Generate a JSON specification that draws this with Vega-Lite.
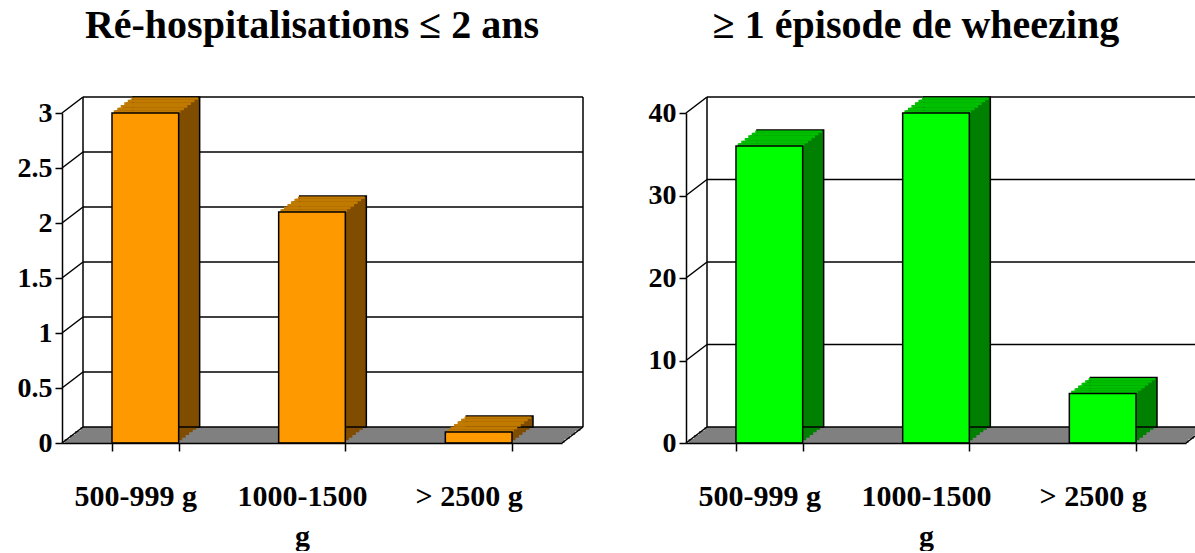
{
  "$schema": "https://vega.github.io/schema/vega-lite/v6.json",
  "background": "white",
  "padding": {"left": 17, "top": 6, "right": 0, "bottom": 0},
  "spacing": 64,
  "config": {
    "view": {"stroke": null},
    "font": "Liberation Serif",
    "axis": {"domainColor": "black", "tickColor": "black", "labelColor": "black", "labelFont": "Liberation Serif", "labelFontWeight": "bold", "grid": false, "domainWidth": 1.5, "tickWidth": 1.5},
    "axisY": {"labelFontSize": 28, "tickSize": 7, "labelPadding": 3, "format": "~g"},
    "axisX": {"labelFontSize": 30, "labelPadding": 30, "tickSize": 8, "labelAngle": 0, "labelOffset": -10, "tickBand": "extent", "labelLineHeight": 40, "labelOverlap": false, "labelLimit": 0},
    "title": {"font": "Liberation Serif", "fontSize": 40, "fontWeight": "bold", "color": "black", "anchor": "middle", "offset": 50}
  },
  "datasets": {
    "hosp": [
      {"cat": "500-999 g", "v": 3},
      {"cat": "1000-1500 g", "v": 2.1},
      {"cat": "> 2500 g", "v": 0.1}
    ],
    "wheez": [
      {"cat": "500-999 g", "v": 36},
      {"cat": "1000-1500 g", "v": 40},
      {"cat": "> 2500 g", "v": 6}
    ],
    "gridL": [{"g": 0}, {"g": 0.5}, {"g": 1}, {"g": 1.5}, {"g": 2}, {"g": 2.5}, {"g": 3}],
    "gridR": [{"g": 0}, {"g": 10}, {"g": 20}, {"g": 30}, {"g": 40}],
    "one": [{"part": "frame"}]
  },
  "hconcat": [
    {
      "width": 500,
      "height": 330,
      "title": {"text": "Ré-hospitalisations ≤ 2 ans"},
      "layer": [
        {"data": {"name": "one"}, "mark": {"type": "rect", "fill": "#808080", "xOffset": 2.6, "x2Offset": 2.6, "yOffset": 0, "y2Offset": -4}, "encoding": {"x": {"datum": "500-999 g", "bandPosition": -0.75, "title": null}, "x2": {"datum": "> 2500 g", "bandPosition": 1.75}, "y": {"datum": 0, "type": "quantitative", "title": null}, "y2": {"datum": 0}}},
        {"data": {"name": "one"}, "mark": {"type": "rect", "fill": "#808080", "xOffset": 7.9, "x2Offset": 7.9, "yOffset": -4, "y2Offset": -8}, "encoding": {"x": {"datum": "500-999 g", "bandPosition": -0.75, "title": null}, "x2": {"datum": "> 2500 g", "bandPosition": 1.75}, "y": {"datum": 0, "type": "quantitative", "title": null}, "y2": {"datum": 0}}},
        {"data": {"name": "one"}, "mark": {"type": "rect", "fill": "#808080", "xOffset": 13.1, "x2Offset": 13.1, "yOffset": -8, "y2Offset": -12}, "encoding": {"x": {"datum": "500-999 g", "bandPosition": -0.75, "title": null}, "x2": {"datum": "> 2500 g", "bandPosition": 1.75}, "y": {"datum": 0, "type": "quantitative", "title": null}, "y2": {"datum": 0}}},
        {"data": {"name": "one"}, "mark": {"type": "rect", "fill": "#808080", "xOffset": 18.4, "x2Offset": 18.4, "yOffset": -12, "y2Offset": -16}, "encoding": {"x": {"datum": "500-999 g", "bandPosition": -0.75, "title": null}, "x2": {"datum": "> 2500 g", "bandPosition": 1.75}, "y": {"datum": 0, "type": "quantitative", "title": null}, "y2": {"datum": 0}}},
        {"data": {"name": "gridL"}, "mark": {"type": "rule", "stroke": "black", "strokeWidth": 1.5, "xOffset": 21, "x2Offset": 21, "yOffset": -16}, "encoding": {"x": {"datum": "500-999 g", "bandPosition": -0.75, "title": null}, "x2": {"datum": "> 2500 g", "bandPosition": 1.75}, "y": {"field": "g", "type": "quantitative", "title": null}}},
        {"data": {"name": "gridL"}, "mark": {"type": "rule", "stroke": "black", "strokeWidth": 1.5, "x2Offset": 21, "y2Offset": -16}, "encoding": {"x": {"datum": "500-999 g", "bandPosition": -0.75, "title": null}, "x2": {"datum": "500-999 g", "bandPosition": -0.75}, "y": {"field": "g", "type": "quantitative", "title": null}, "y2": {"field": "g"}}},
        {"data": {"name": "one"}, "mark": {"type": "rule", "stroke": "black", "strokeWidth": 1.5, "x2Offset": 21, "y2Offset": -16}, "encoding": {"x": {"datum": "> 2500 g", "bandPosition": 1.75, "title": null}, "x2": {"datum": "> 2500 g", "bandPosition": 1.75}, "y": {"datum": 0, "type": "quantitative", "title": null}, "y2": {"datum": 0}}},
        {"data": {"name": "one"}, "mark": {"type": "rule", "stroke": "black", "strokeWidth": 1.5, "xOffset": 21, "yOffset": -16, "y2Offset": -16}, "encoding": {"x": {"datum": "500-999 g", "bandPosition": -0.75, "title": null}, "y": {"datum": 0, "type": "quantitative", "title": null}, "y2": {"datum": 3}}},
        {"data": {"name": "one"}, "mark": {"type": "rule", "stroke": "black", "strokeWidth": 1.5, "xOffset": 21, "yOffset": -16, "y2Offset": -16}, "encoding": {"x": {"datum": "> 2500 g", "bandPosition": 1.75, "title": null}, "y": {"datum": 0, "type": "quantitative", "title": null}, "y2": {"datum": 3}}},
        {
          "data": {"name": "hosp"},
          "encoding": {
            "x": {"field": "cat", "type": "nominal", "sort": null, "title": null, "scale": {"domain": ["500-999 g", "1000-1500 g", "> 2500 g"], "paddingInner": 0.6, "paddingOuter": 0.3}, "axis": {"labelExpr": "datum.label == '1000-1500 g' ? ['1000-1500', 'g'] : datum.label"}},
            "y": {"field": "v", "type": "quantitative", "title": null, "scale": {"domain": [0, 3]}, "axis": {"values": [0, 0.5, 1, 1.5, 2, 2.5, 3]}}
          },
          "layer": [
            {"mark": {"type": "bar", "fill": "#7F4C00", "xOffset": 3.5, "x2Offset": 3.5, "yOffset": -2.67, "y2Offset": -2.67}},
            {"mark": {"type": "bar", "fill": "#7F4C00", "xOffset": 7, "x2Offset": 7, "yOffset": -5.33, "y2Offset": -5.33}},
            {"mark": {"type": "bar", "fill": "#7F4C00", "xOffset": 10.5, "x2Offset": 10.5, "yOffset": -8, "y2Offset": -8}},
            {"mark": {"type": "bar", "fill": "#7F4C00", "xOffset": 14, "x2Offset": 14, "yOffset": -10.67, "y2Offset": -10.67}},
            {"mark": {"type": "bar", "fill": "#7F4C00", "xOffset": 17.5, "x2Offset": 17.5, "yOffset": -13.33, "y2Offset": -13.33}},
            {"mark": {"type": "bar", "fill": "#7F4C00", "stroke": "black", "strokeWidth": 1.5, "xOffset": 21, "x2Offset": 21, "yOffset": -16, "y2Offset": -16}},
            {"mark": {"type": "rect", "fill": "#C17A00", "xOffset": 1.75, "x2Offset": 1.75, "yOffset": 0, "y2Offset": -2.67}, "encoding": {"y2": {"field": "v"}}},
            {"mark": {"type": "rect", "fill": "#C17A00", "xOffset": 5.25, "x2Offset": 5.25, "yOffset": -2.67, "y2Offset": -5.33}, "encoding": {"y2": {"field": "v"}}},
            {"mark": {"type": "rect", "fill": "#C17A00", "xOffset": 8.75, "x2Offset": 8.75, "yOffset": -5.33, "y2Offset": -8}, "encoding": {"y2": {"field": "v"}}},
            {"mark": {"type": "rect", "fill": "#C17A00", "xOffset": 12.25, "x2Offset": 12.25, "yOffset": -8, "y2Offset": -10.67}, "encoding": {"y2": {"field": "v"}}},
            {"mark": {"type": "rect", "fill": "#C17A00", "xOffset": 15.75, "x2Offset": 15.75, "yOffset": -10.67, "y2Offset": -13.33}, "encoding": {"y2": {"field": "v"}}},
            {"mark": {"type": "rect", "fill": "#C17A00", "xOffset": 19.25, "x2Offset": 19.25, "yOffset": -13.33, "y2Offset": -15.5}, "encoding": {"y2": {"field": "v"}}},
            {"mark": {"type": "bar", "fill": "#FF9900", "stroke": "black", "strokeWidth": 1.5}}
          ]
        }
      ]
    },
    {
      "width": 500,
      "height": 330,
      "title": {"text": "≥ 1 épisode de wheezing", "dx": -20},
      "layer": [
        {"data": {"name": "one"}, "mark": {"type": "rect", "fill": "#808080", "xOffset": 2.6, "x2Offset": 2.6, "yOffset": 0, "y2Offset": -4}, "encoding": {"x": {"datum": "500-999 g", "bandPosition": -0.75, "title": null}, "x2": {"datum": "> 2500 g", "bandPosition": 1.75}, "y": {"datum": 0, "type": "quantitative", "title": null}, "y2": {"datum": 0}}},
        {"data": {"name": "one"}, "mark": {"type": "rect", "fill": "#808080", "xOffset": 7.9, "x2Offset": 7.9, "yOffset": -4, "y2Offset": -8}, "encoding": {"x": {"datum": "500-999 g", "bandPosition": -0.75, "title": null}, "x2": {"datum": "> 2500 g", "bandPosition": 1.75}, "y": {"datum": 0, "type": "quantitative", "title": null}, "y2": {"datum": 0}}},
        {"data": {"name": "one"}, "mark": {"type": "rect", "fill": "#808080", "xOffset": 13.1, "x2Offset": 13.1, "yOffset": -8, "y2Offset": -12}, "encoding": {"x": {"datum": "500-999 g", "bandPosition": -0.75, "title": null}, "x2": {"datum": "> 2500 g", "bandPosition": 1.75}, "y": {"datum": 0, "type": "quantitative", "title": null}, "y2": {"datum": 0}}},
        {"data": {"name": "one"}, "mark": {"type": "rect", "fill": "#808080", "xOffset": 18.4, "x2Offset": 18.4, "yOffset": -12, "y2Offset": -16}, "encoding": {"x": {"datum": "500-999 g", "bandPosition": -0.75, "title": null}, "x2": {"datum": "> 2500 g", "bandPosition": 1.75}, "y": {"datum": 0, "type": "quantitative", "title": null}, "y2": {"datum": 0}}},
        {"data": {"name": "gridR"}, "mark": {"type": "rule", "stroke": "black", "strokeWidth": 1.5, "xOffset": 21, "x2Offset": 21, "yOffset": -16}, "encoding": {"x": {"datum": "500-999 g", "bandPosition": -0.75, "title": null}, "x2": {"datum": "> 2500 g", "bandPosition": 1.75}, "y": {"field": "g", "type": "quantitative", "title": null}}},
        {"data": {"name": "gridR"}, "mark": {"type": "rule", "stroke": "black", "strokeWidth": 1.5, "x2Offset": 21, "y2Offset": -16}, "encoding": {"x": {"datum": "500-999 g", "bandPosition": -0.75, "title": null}, "x2": {"datum": "500-999 g", "bandPosition": -0.75}, "y": {"field": "g", "type": "quantitative", "title": null}, "y2": {"field": "g"}}},
        {"data": {"name": "one"}, "mark": {"type": "rule", "stroke": "black", "strokeWidth": 1.5, "x2Offset": 21, "y2Offset": -16}, "encoding": {"x": {"datum": "> 2500 g", "bandPosition": 1.75, "title": null}, "x2": {"datum": "> 2500 g", "bandPosition": 1.75}, "y": {"datum": 0, "type": "quantitative", "title": null}, "y2": {"datum": 0}}},
        {"data": {"name": "one"}, "mark": {"type": "rule", "stroke": "black", "strokeWidth": 1.5, "xOffset": 21, "yOffset": -16, "y2Offset": -16}, "encoding": {"x": {"datum": "500-999 g", "bandPosition": -0.75, "title": null}, "y": {"datum": 0, "type": "quantitative", "title": null}, "y2": {"datum": 40}}},
        {"data": {"name": "one"}, "mark": {"type": "rule", "stroke": "black", "strokeWidth": 1.5, "xOffset": 21, "yOffset": -16, "y2Offset": -16}, "encoding": {"x": {"datum": "> 2500 g", "bandPosition": 1.75, "title": null}, "y": {"datum": 0, "type": "quantitative", "title": null}, "y2": {"datum": 40}}},
        {
          "data": {"name": "wheez"},
          "encoding": {
            "x": {"field": "cat", "type": "nominal", "sort": null, "title": null, "scale": {"domain": ["500-999 g", "1000-1500 g", "> 2500 g"], "paddingInner": 0.6, "paddingOuter": 0.3}, "axis": {"labelExpr": "datum.label == '1000-1500 g' ? ['1000-1500', 'g'] : datum.label"}},
            "y": {"field": "v", "type": "quantitative", "title": null, "scale": {"domain": [0, 40]}, "axis": {"values": [0, 10, 20, 30, 40]}}
          },
          "layer": [
            {"mark": {"type": "bar", "fill": "#008000", "xOffset": 3.5, "x2Offset": 3.5, "yOffset": -2.67, "y2Offset": -2.67}},
            {"mark": {"type": "bar", "fill": "#008000", "xOffset": 7, "x2Offset": 7, "yOffset": -5.33, "y2Offset": -5.33}},
            {"mark": {"type": "bar", "fill": "#008000", "xOffset": 10.5, "x2Offset": 10.5, "yOffset": -8, "y2Offset": -8}},
            {"mark": {"type": "bar", "fill": "#008000", "xOffset": 14, "x2Offset": 14, "yOffset": -10.67, "y2Offset": -10.67}},
            {"mark": {"type": "bar", "fill": "#008000", "xOffset": 17.5, "x2Offset": 17.5, "yOffset": -13.33, "y2Offset": -13.33}},
            {"mark": {"type": "bar", "fill": "#008000", "stroke": "black", "strokeWidth": 1.5, "xOffset": 21, "x2Offset": 21, "yOffset": -16, "y2Offset": -16}},
            {"mark": {"type": "rect", "fill": "#00BF00", "xOffset": 1.75, "x2Offset": 1.75, "yOffset": 0, "y2Offset": -2.67}, "encoding": {"y2": {"field": "v"}}},
            {"mark": {"type": "rect", "fill": "#00BF00", "xOffset": 5.25, "x2Offset": 5.25, "yOffset": -2.67, "y2Offset": -5.33}, "encoding": {"y2": {"field": "v"}}},
            {"mark": {"type": "rect", "fill": "#00BF00", "xOffset": 8.75, "x2Offset": 8.75, "yOffset": -5.33, "y2Offset": -8}, "encoding": {"y2": {"field": "v"}}},
            {"mark": {"type": "rect", "fill": "#00BF00", "xOffset": 12.25, "x2Offset": 12.25, "yOffset": -8, "y2Offset": -10.67}, "encoding": {"y2": {"field": "v"}}},
            {"mark": {"type": "rect", "fill": "#00BF00", "xOffset": 15.75, "x2Offset": 15.75, "yOffset": -10.67, "y2Offset": -13.33}, "encoding": {"y2": {"field": "v"}}},
            {"mark": {"type": "rect", "fill": "#00BF00", "xOffset": 19.25, "x2Offset": 19.25, "yOffset": -13.33, "y2Offset": -15.5}, "encoding": {"y2": {"field": "v"}}},
            {"mark": {"type": "bar", "fill": "#00FF00", "stroke": "black", "strokeWidth": 1.5}}
          ]
        }
      ]
    }
  ]
}
